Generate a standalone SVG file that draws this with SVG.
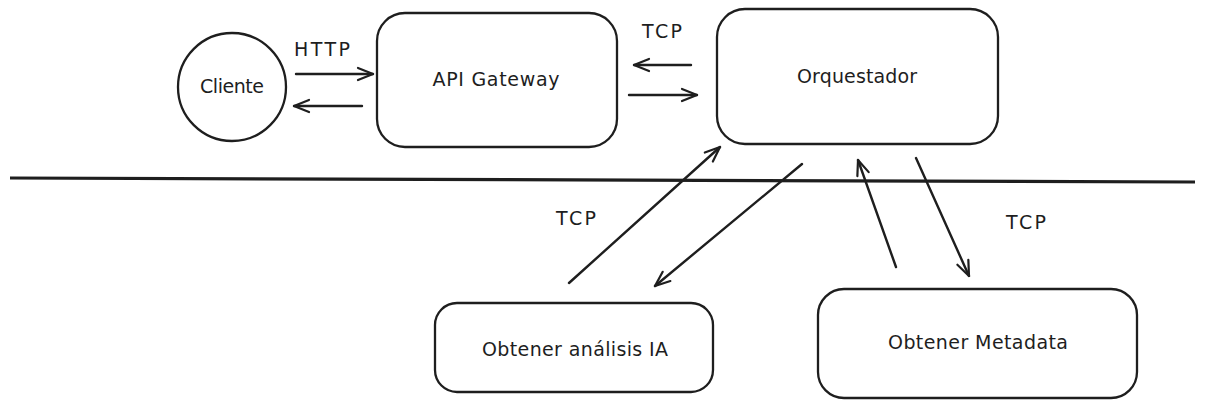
<svg xmlns="http://www.w3.org/2000/svg" width="1205" height="408" viewBox="0 0 1205 408">
<style>
.node{fill:#ffffff;stroke:#1e1e1e;stroke-width:2.3}
.lbl{font-family:"DejaVu Sans","Liberation Sans",sans-serif;font-size:19px;fill:#1e1e1e;text-anchor:middle}
.edge{fill:none;stroke:#1e1e1e;stroke-width:2.4;stroke-linecap:round}
</style>
<defs>
<marker id="ah" markerUnits="userSpaceOnUse" markerWidth="20" markerHeight="20" refX="0" refY="0" orient="auto" overflow="visible">
<path d="M-15,-6 L0,0 L-15,6" fill="none" stroke="#1e1e1e" stroke-width="2.2" stroke-linecap="round" stroke-linejoin="round"/>
</marker>
</defs>
<rect width="1205" height="408" fill="#ffffff"/>
<g id="divider">
<line x1="10" y1="178" x2="1195" y2="182" stroke="#1e1e1e" stroke-width="3.2"/>
</g>
<g id="connectors">
<line class="edge" x1="296" y1="74" x2="373" y2="74" marker-end="url(#ah)"/>
<line class="edge" x1="362" y1="106" x2="294" y2="106" marker-end="url(#ah)"/>
<line class="edge" x1="691" y1="65" x2="634" y2="65" marker-end="url(#ah)"/>
<line class="edge" x1="629" y1="95" x2="697" y2="95" marker-end="url(#ah)"/>
<line class="edge" x1="569" y1="283" x2="720" y2="147" marker-end="url(#ah)"/>
<line class="edge" x1="802" y1="164" x2="655" y2="286" marker-end="url(#ah)"/>
<line class="edge" x1="896" y1="267" x2="858" y2="160" marker-end="url(#ah)"/>
<line class="edge" x1="916" y1="158" x2="969" y2="276" marker-end="url(#ah)"/>
<text class="lbl" x="322" y="56" textLength="56">HTTP</text>
<text class="lbl" x="662" y="38" textLength="40">TCP</text>
<text class="lbl" x="576" y="225" textLength="40">TCP</text>
<text class="lbl" x="1026" y="229" textLength="40">TCP</text>
</g>
<g id="cliente">
<circle class="node" cx="232" cy="87" r="54"/>
<text class="lbl" x="232" y="93" textLength="64">Cliente</text>
</g>
<g id="api-gateway">
<rect class="node" x="377" y="13" width="240" height="134" rx="28"/>
<text class="lbl" x="496" y="86" textLength="127">API Gateway</text>
</g>
<g id="orquestador">
<rect class="node" x="717" y="9" width="281" height="135" rx="28"/>
<text class="lbl" x="857" y="83" textLength="120">Orquestador</text>
</g>
<g id="analisis">
<rect class="node" x="435" y="303" width="278" height="89" rx="22"/>
<text class="lbl" x="575" y="356" textLength="186">Obtener análisis IA</text>
</g>
<g id="metadata">
<rect class="node" x="818" y="289" width="319" height="109" rx="26"/>
<text class="lbl" x="978" y="349" textLength="180">Obtener Metadata</text>
</g>
</svg>
